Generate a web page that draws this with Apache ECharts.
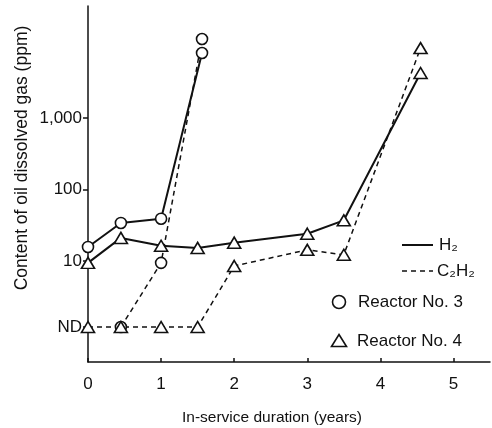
<!DOCTYPE html>
<html>
<head>
<meta charset="utf-8">
<script src="https://cdn.jsdelivr.net/npm/echarts@6/dist/echarts.min.js"></script>
<style>
  html, body { margin: 0; padding: 0; background: #fff; }
  #chart { width: 492px; height: 428px; }
</style>
</head>
<body>
<div id="chart"></div>
<script>
// "ND" (not detected) is drawn just above 1 ppm on the log axis
const ND = 1.19;

// reactor No. 3 (circles)
const r3Years = [0, 0.45, 1, 1.56];
const r3H2 = [15.7, 34, 39, 8100];
const r3C2H2Years = [0.45, 1, 1.56];
const r3C2H2 = [ND, 9.4, 12700];

// reactor No. 4 (triangles)
const r4Years = [0, 0.45, 1, 1.5, 2, 3, 3.5, 4.55];
const r4H2 = [9.4, 21, 16.3, 15.2, 18, 24, 37, 4250];
const r4C2H2 = [ND, ND, ND, ND, 8.5, 14.3, 12.2, 9500];

const yTicks = [ND, 10, 100, 1000];
const xTicks = [0, 1, 2, 3, 4, 5];

const FONT = "Liberation Sans";
const INK = "#111";

function pairs(xs, ys) {
  return xs.map((x, i) => [x, ys[i]]);
}

function lineSeries(name, data, symbol, dashed) {
  return {
    name: name,
    type: "line",
    data: data,
    symbol: symbol,
    symbolSize: symbol === "circle" ? 11 : [13, 11],
    showAllSymbol: true,
    itemStyle: { color: "#fff", borderColor: INK, borderWidth: 1.6 },
    lineStyle: {
      color: INK,
      width: dashed ? 1.5 : 2,
      type: dashed ? [5, 4] : "solid"
    },
    emphasis: { disabled: true },
    animation: false
  };
}

const chart = echarts.init(document.getElementById("chart"));

const option = {
  backgroundColor: "#fff",
  animation: false,
  grid: { left: 88, right: 2, top: 6, bottom: 66, outerBoundsMode: "none" },
  xAxis: {
    type: "value",
    min: 0,
    max: 5.5,
    interval: 1,
    splitLine: { show: false },
    axisLine: { lineStyle: { color: INK, width: 1.5 } },
    axisTick: { show: true, inside: true, length: 4, customValues: xTicks, lineStyle: { color: INK, width: 1.5 } },
    axisLabel: { customValues: xTicks, margin: 14, color: INK, fontFamily: FONT, fontSize: 17 },
    name: "In-service duration (years)",
    nameLocation: "middle",
    nameGap: 48,
    // title sits a little left of the axis middle
    nameTextStyle: { color: INK, fontFamily: FONT, fontSize: 15.5, padding: [0, 34, 0, 0] }
  },
  yAxis: {
    type: "log",
    logBase: 10,
    min: 0.386,
    max: 36800,
    splitLine: { show: false },
    axisLine: { lineStyle: { color: INK, width: 1.5 } },
    axisTick: { show: true, length: 5, customValues: yTicks, lineStyle: { color: INK, width: 1.5 } },
    axisLabel: {
      customValues: yTicks,
      margin: 6,
      color: INK,
      fontFamily: FONT,
      fontSize: 17,
      formatter: function (v) {
        if (Math.abs(v - ND) < 0.01) return "ND";
        return Math.round(v).toLocaleString("en-US");
      }
    }
  },
  graphic: [
    {
      type: "text",
      x: 22, y: 158,
      rotation: Math.PI / 2,
      style: {
        text: "Content of oil dissolved gas (ppm)",
        fill: INK, font: "17.5px " + FONT,
        align: "center", verticalAlign: "middle"
      }
    },
    { type: "line", shape: { x1: 402, y1: 245, x2: 433, y2: 245 }, style: { stroke: INK, lineWidth: 2 } },
    { type: "text", x: 439, y: 245, style: { text: "H₂", fill: INK, font: "17px " + FONT, verticalAlign: "middle" } },
    { type: "line", shape: { x1: 402, y1: 271, x2: 433, y2: 271 }, style: { stroke: INK, lineWidth: 1.5, lineDash: [5, 4] } },
    { type: "text", x: 437, y: 271, style: { text: "C₂H₂", fill: INK, font: "17px " + FONT, verticalAlign: "middle" } },
    { type: "circle", shape: { cx: 339, cy: 302, r: 6.5 }, style: { fill: "#fff", stroke: INK, lineWidth: 1.6 } },
    { type: "text", x: 358, y: 302, style: { text: "Reactor No. 3", fill: INK, font: "17px " + FONT, verticalAlign: "middle" } },
    { type: "polygon", shape: { points: [[339, 334.5], [346.5, 346.5], [331.5, 346.5]] }, style: { fill: "#fff", stroke: INK, lineWidth: 1.6 } },
    { type: "text", x: 357, y: 341, style: { text: "Reactor No. 4", fill: INK, font: "17px " + FONT, verticalAlign: "middle" } }
  ],
  series: [
    lineSeries("R3 H2", pairs(r3Years, r3H2), "circle", false),
    lineSeries("R3 C2H2", pairs(r3C2H2Years, r3C2H2), "circle", true),
    lineSeries("R4 H2", pairs(r4Years, r4H2), "triangle", false),
    lineSeries("R4 C2H2", pairs(r4Years, r4C2H2), "triangle", true)
  ]
};

chart.setOption(option);
</script>
</body>
</html>
